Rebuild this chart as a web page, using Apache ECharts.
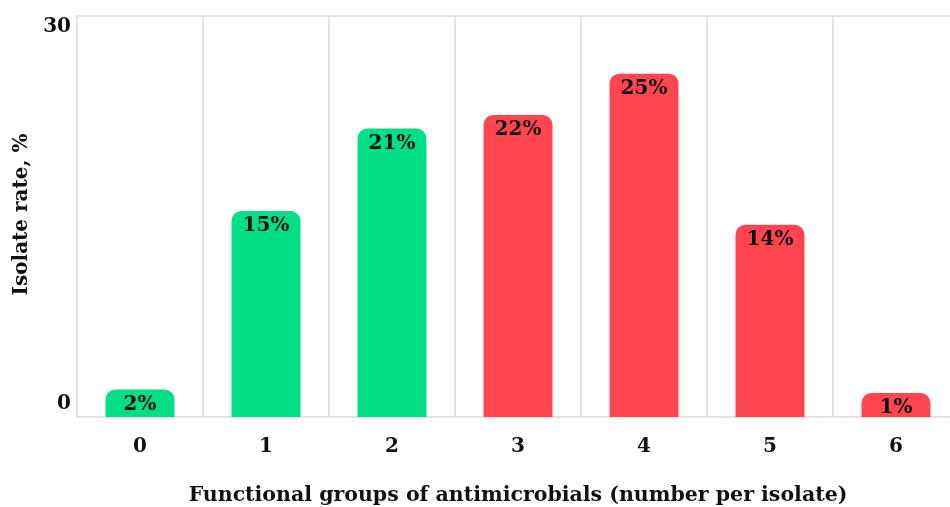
<!DOCTYPE html>
<html>
<head>
<meta charset="utf-8">
<script src="https://cdn.jsdelivr.net/npm/echarts@6/dist/echarts.min.js"></script>
<style>
  html, body { margin: 0; padding: 0; background: #fff; }
  #chart { width: 950px; height: 507px; }
</style>
</head>
<body>
<div id="chart"></div>
<script>
// Number of functional antimicrobial groups each isolate resists
const categories = ['0', '1', '2', '3', '4', '5', '6'];
// Share of isolates, %
const isolateRate = [2, 15, 21, 22, 25, 14, 1];
// Groups 0-2 are shown green, 3 and above red
const barColors = ['#00de88', '#00de88', '#00de88', '#ff4550', '#ff4550', '#ff4550', '#ff4550'];
// Value-axis extent and its two end labels
const yMin = 0;
const yMax = 29.2;
const yTickValues = [0, 29.2];
const yTickLabels = ['0', '30'];

const serif = '"DejaVu Serif", "Liberation Serif", serif';

const chart = echarts.init(document.getElementById('chart'), null, { renderer: 'canvas' });

chart.setOption({
  animation: false,
  backgroundColor: '#ffffff',
  grid: {
    left: 77, width: 882, top: 16, height: 401,
    outerBoundsMode: 'none',
    show: true, borderColor: '#e2e2e2', borderWidth: 2,
    containLabel: false
  },
  xAxis: {
    type: 'category',
    data: categories,
    name: 'Functional groups of antimicrobials (number per isolate)',
    nameLocation: 'middle',
    nameGap: 68,
    nameTextStyle: { fontFamily: serif, fontWeight: 'bold', fontSize: 20.5, color: '#111' },
    axisLine: { show: true, lineStyle: { color: '#e2e2e2', width: 2 } },
    axisTick: { show: false },
    axisLabel: { fontFamily: serif, fontWeight: 'bold', fontSize: 20, color: '#111', margin: 20 },
    splitLine: { show: true, lineStyle: { color: '#e2e2e2', width: 2 } }
  },
  yAxis: {
    type: 'value',
    min: yMin,
    max: yMax,
    name: 'Isolate rate, %',
    nameLocation: 'middle',
    nameGap: 43,
    nameTextStyle: { fontFamily: serif, fontWeight: 'bold', fontSize: 20, color: '#111', padding: [0, 0, 0, 4] },
    axisLine: { show: true, lineStyle: { color: '#e2e2e2', width: 2 } },
    axisTick: { show: false },
    splitLine: { show: false },
    axisLabel: {
      customValues: yTickValues,
      margin: 6,
      formatter: function (v) {
        const i = yTickValues.indexOf(v);
        const text = i >= 0 ? yTickLabels[i] : '';
        return i === 0 ? '{low|' + text + '}' : '{high|' + text + '}';
      },
      rich: {
        low: { fontFamily: serif, fontWeight: 'bold', fontSize: 20, color: '#111', padding: [0, 0, 26, 0] },
        high: { fontFamily: serif, fontWeight: 'bold', fontSize: 20, color: '#111', padding: [22, 0, 0, 0] }
      }
    }
  },
  series: [{
    type: 'bar',
    data: isolateRate.map((v, i) => ({ value: v, itemStyle: { color: barColors[i] } })),
    barWidth: 69,
    barMinHeight: 24,
    itemStyle: { borderRadius: [10, 10, 0, 0] },
    label: {
      show: true,
      position: 'insideTop',
      distance: 5,
      formatter: '{c}%',
      fontFamily: serif,
      fontWeight: 'bold',
      fontSize: 20,
      color: '#111'
    }
  }]
});
</script>
</body>
</html>
